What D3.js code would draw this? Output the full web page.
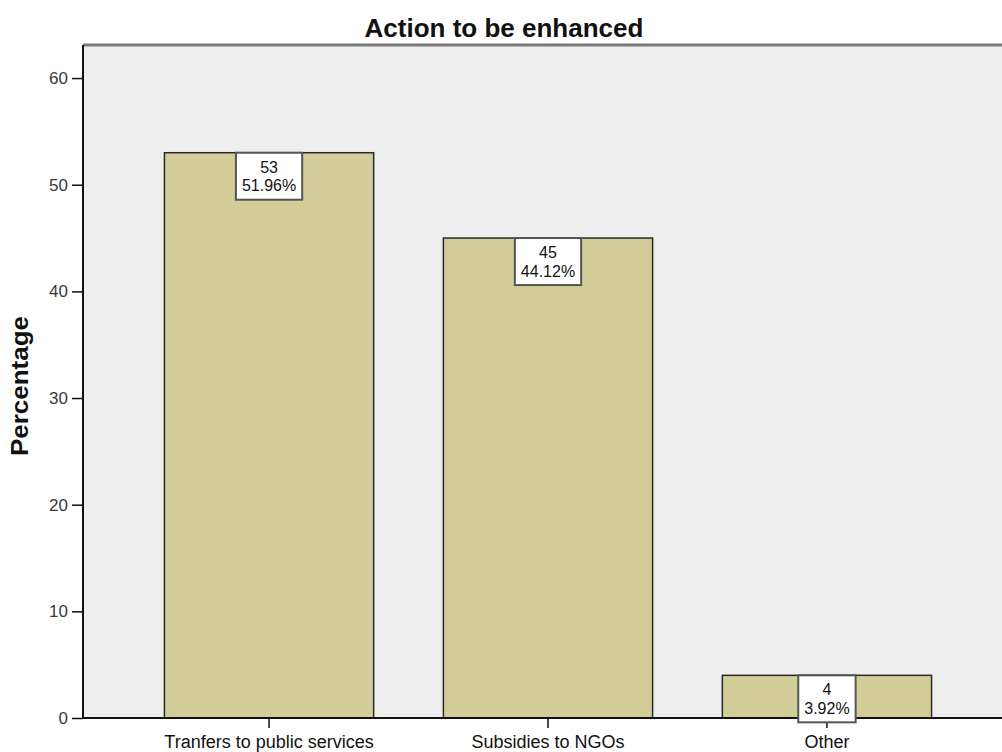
<!DOCTYPE html>
<html><head><meta charset="utf-8">
<script src="https://cdn.jsdelivr.net/npm/d3@7"></script>
<style>body{margin:0;background:#fff}svg{display:block}</style>
</head><body>
<svg id="c" width="1002" height="752"></svg>
<script>
const categories = ["Tranfers to public services", "Subsidies to NGOs", "Other"];
const counts = [53, 45, 4];
const percents = ["51.96%", "44.12%", "3.92%"];
const yTicks = [0, 10, 20, 30, 40, 50, 60];

(function () {
const svg = d3.select("#c");
const pLeft = 83, pTop = 45, pBottom = 718, pRight = 1013;
const y = d3.scaleLinear().domain([0, 63.1]).range([pBottom, pTop]);
const x = d3.scaleBand().domain(categories).range([pLeft, pRight]).paddingInner(0.25).paddingOuter(0.292);
const FONT = "Arial, 'Liberation Sans', sans-serif";

svg.append("rect").attr("x", pLeft).attr("y", pTop).attr("width", 1002 - pLeft).attr("height", pBottom - pTop).attr("fill", "#eeeeee");
svg.append("line").attr("x1", pLeft).attr("x2", 1002).attr("y1", pTop).attr("y2", pTop).attr("stroke", "#7a7a7a").attr("stroke-width", 3);

svg.selectAll("rect.bar").data(categories).enter().append("rect").attr("class", "bar")
  .attr("x", d => x(d)).attr("width", x.bandwidth())
  .attr("y", (d, i) => y(counts[i])).attr("height", (d, i) => y(0) - y(counts[i]))
  .attr("fill", "#d2cd98").attr("stroke", "#2a2a2a").attr("stroke-width", 1.5);

const yAxis = svg.append("g").attr("transform", `translate(${pLeft},0)`)
  .call(d3.axisLeft(y).tickValues(yTicks).tickSize(11).tickPadding(4));
yAxis.select(".domain").remove();
yAxis.selectAll("line").attr("stroke", "#111").attr("stroke-width", 1.5);
yAxis.selectAll("text").attr("font-family", FONT).attr("font-size", 17).attr("fill", "#3a3a3a");
svg.append("line").attr("x1", pLeft).attr("x2", pLeft).attr("y1", pTop).attr("y2", pBottom).attr("stroke", "#111").attr("stroke-width", 2);

const xAxis = svg.append("g").attr("transform", `translate(0,${pBottom})`)
  .call(d3.axisBottom(x).tickSize(10).tickPadding(7));
xAxis.select(".domain").remove();
xAxis.selectAll("line").attr("stroke", "#111").attr("stroke-width", 1.5);
xAxis.selectAll("text").attr("font-family", FONT).attr("font-size", 18).attr("fill", "#111");
svg.append("line").attr("x1", pLeft).attr("x2", 1002).attr("y1", pBottom).attr("y2", pBottom).attr("stroke", "#111").attr("stroke-width", 2);

categories.forEach((c, i) => {
  const cx = x(c) + x.bandwidth() / 2;
  const ty = y(counts[i]);
  const g = svg.append("g");
  const t1 = g.append("text").attr("x", cx).attr("y", ty + 20).attr("text-anchor", "middle")
    .attr("font-family", FONT).attr("font-size", 16).attr("fill", "#111").text(counts[i]);
  const t2 = g.append("text").attr("x", cx).attr("y", ty + 38.5).attr("text-anchor", "middle")
    .attr("font-family", FONT).attr("font-size", 16).attr("fill", "#111").text(percents[i]);
  const w = Math.max(t1.node().getComputedTextLength(), t2.node().getComputedTextLength()) + 12;
  g.insert("rect", "text").attr("x", cx - w / 2).attr("y", ty).attr("width", w).attr("height", 47)
    .attr("fill", "#fff").attr("stroke", "#555").attr("stroke-width", 2);
});

svg.append("text").attr("x", 504).attr("y", 37).attr("text-anchor", "middle")
  .attr("font-family", FONT).attr("font-size", 26).attr("font-weight", "bold").attr("fill", "#111")
  .text("Action to be enhanced");
svg.append("text").attr("transform", "translate(28,386) rotate(-90)").attr("text-anchor", "middle")
  .attr("font-family", FONT).attr("font-size", 23).attr("font-weight", "bold").attr("fill", "#111")
  .attr("textLength", 140).attr("lengthAdjust", "spacingAndGlyphs")
  .text("Percentage");
})();
</script>
</body></html>
